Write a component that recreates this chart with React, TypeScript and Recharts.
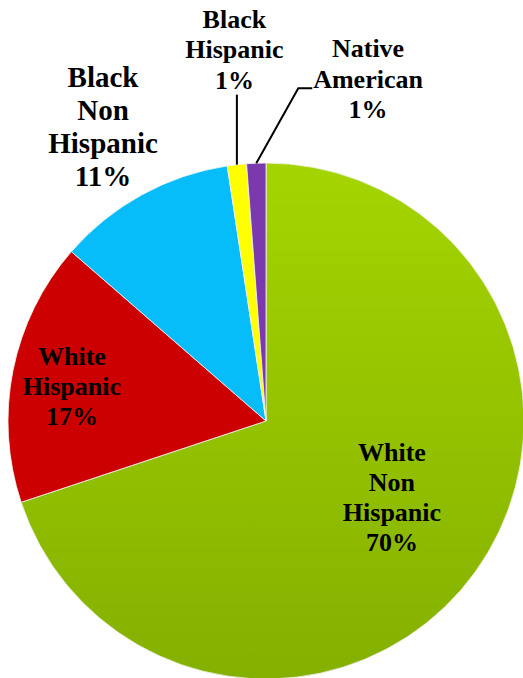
import React from "react"
import { Cell, Pie, PieChart } from "recharts"

const CATEGORIES = [
  "White Non Hispanic",
  "White Hispanic",
  "Black Non Hispanic",
  "Black Hispanic",
  "Native American",
]

const SHARES = [69.9, 16.5, 11.2, 1.2, 1.2]

// how each category name wraps onto lines in the label
const LABEL_LINES = [
  ["White", "Non", "Hispanic"],
  ["White", "Hispanic"],
  ["Black", "Non", "Hispanic"],
  ["Black", "Hispanic"],
  ["Native", "American"],
]

const COLORS = ["url(#greenFill)", "#cc0000", "#06bdf9", "#ffff00", "#7a39ac"]

// label placement: radius factor / angle shift from the slice middle, font, line height, leader path
const LABEL_LAYOUT = [
  { rf: 0.589, da: 1.8, fs: 26, lh: 30, leader: null },
  { rf: 0.759, da: 3.7, fs: 26, lh: 30, leader: null },
  { rf: 1.271, da: 1.0, fs: 29, lh: 33, leader: null },
  { rf: 1.412, da: -1.5, fs: 26, lh: 30.5, leader: [[0, -70]] },
  { rf: 1.35, da: -19.2, fs: 26, lh: 30.5, leader: [[42, -75], [14, 0]] },
]

const RAD = Math.PI / 180
const SERIF = "Liberation Serif, Times New Roman, DejaVu Serif, serif"

const data = CATEGORIES.map((name, i) => ({ name, value: SHARES[i] }))

function renderLabel(props: any) {
  const { cx, cy, midAngle, outerRadius, index } = props
  const layout = LABEL_LAYOUT[index]
  const angle = (midAngle + layout.da) * RAD
  const r = outerRadius * layout.rf
  const x = cx + r * Math.cos(angle)
  const yMid = cy - r * Math.sin(angle)
  const lines = [...LABEL_LINES[index], `${Math.round(SHARES[index])}%`]
  const n = lines.length

  let leader = null
  if (layout.leader) {
    const sx = cx + outerRadius * Math.cos(midAngle * RAD)
    const sy = cy - outerRadius * Math.sin(midAngle * RAD)
    const pts = [[sx, sy]]
    layout.leader.forEach(([dx, dy]) => {
      const [px, py] = pts[pts.length - 1]
      pts.push([px + dx, py + dy])
    })
    leader = (
      <polyline
        points={pts.map((p) => p.join(",")).join(" ")}
        fill="none"
        stroke="#000"
        strokeWidth={2}
      />
    )
  }

  return (
    <g key={`label-${index}`}>
      {leader}
      <text
        x={x}
        textAnchor="middle"
        fill="#000"
        style={{ fontFamily: SERIF, fontWeight: 700, fontSize: layout.fs }}
      >
        {lines.map((line, i) => (
          <tspan key={i} x={x} y={yMid + (i - (n - 1) / 2) * layout.lh}>
            {line}
          </tspan>
        ))}
      </text>
    </g>
  )
}

export default function App() {
  return (
    <div style={{ position: "absolute", left: 0, top: 0, background: "#fff" }}>
      <PieChart width={523} height={678} margin={{ top: 0, right: 0, bottom: 0, left: 0 }}>
        <defs>
          <linearGradient id="greenFill" x1="0" y1="0" x2="0" y2="1">
            <stop offset="0%" stopColor="#a4d500" />
            <stop offset="100%" stopColor="#84b000" />
          </linearGradient>
        </defs>
        <Pie
          data={data}
          dataKey="value"
          nameKey="name"
          cx={266}
          cy={421}
          outerRadius={258}
          startAngle={90}
          endAngle={-270}
          stroke="#f4f4f4"
          strokeWidth={0.8}
          label={renderLabel}
          labelLine={false}
          isAnimationActive={false}
        >
          {data.map((d, i) => (
            <Cell key={d.name} fill={COLORS[i]} />
          ))}
        </Pie>
      </PieChart>
    </div>
  )
}
